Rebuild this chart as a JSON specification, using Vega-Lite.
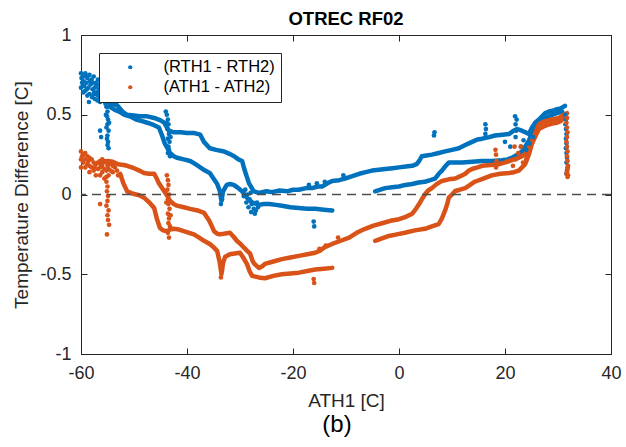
{
"$schema":"https://vega.github.io/schema/vega-lite/v6.json",
"background":"white",
"padding":{"left":12,"top":9,"right":6,"bottom":4},
"title":{"text":"(b)","orient":"bottom","fontSize":24,"font":"Liberation Sans","fontWeight":"normal","color":"#000000","offset":2,"anchor":"middle","frame":"bounds","dx":20},
"datasets":{
"tracks":[
{"t":"b1","s":"R","x":-57.5,"y":0.64},{"t":"b1","s":"R","x":-56,"y":0.6},{"t":"b1","s":"R","x":-54.5,"y":0.57},{"t":"b1","s":"R","x":-53.2,"y":0.56},{"t":"b1","s":"R","x":-52.2,"y":0.52},{"t":"b1","s":"R","x":-51.3,"y":0.5},{"t":"b1","s":"R","x":-50,"y":0.495},{"t":"b1","s":"R","x":-48.9,"y":0.49},{"t":"b1","s":"R","x":-47.5,"y":0.49},{"t":"b1","s":"R","x":-46.2,"y":0.48},{"t":"b1","s":"R","x":-45,"y":0.465},{"t":"b1","s":"R","x":-44.3,"y":0.45},{"t":"b1","s":"R","x":-43.8,"y":0.42},{"t":"b1","s":"R","x":-43.4,"y":0.4},{"t":"b1","s":"R","x":-42.5,"y":0.39},{"t":"b1","s":"R","x":-41.2,"y":0.39},{"t":"b1","s":"R","x":-40,"y":0.385},{"t":"b1","s":"R","x":-38.6,"y":0.385},{"t":"b1","s":"R","x":-37.5,"y":0.375},{"t":"b1","s":"R","x":-36.8,"y":0.33},{"t":"b1","s":"R","x":-35.7,"y":0.29},{"t":"b1","s":"R","x":-34.5,"y":0.28},{"t":"b1","s":"R","x":-33,"y":0.27},{"t":"b1","s":"R","x":-32,"y":0.255},{"t":"b1","s":"R","x":-31.1,"y":0.24},{"t":"b1","s":"R","x":-30.3,"y":0.22},{"t":"b1","s":"R","x":-29.6,"y":0.21},{"t":"b1","s":"R","x":-29.1,"y":0.15},{"t":"b1","s":"R","x":-28.3,"y":0.07},{"t":"b1","s":"R","x":-27.4,"y":0.02},{"t":"b1","s":"R","x":-26.4,"y":0.01},{"t":"b1","s":"R","x":-25,"y":0.02},{"t":"b1","s":"R","x":-24,"y":0.015},{"t":"b1","s":"R","x":-22.5,"y":0.025},{"t":"b1","s":"R","x":-21.1,"y":0.02},{"t":"b1","s":"R","x":-20,"y":0.03},{"t":"b1","s":"R","x":-18.9,"y":0.03},{"t":"b1","s":"R","x":-17.5,"y":0.04},{"t":"b1","s":"R","x":-16.4,"y":0.04},{"t":"b1","s":"R","x":-15.3,"y":0.05},{"t":"b1","s":"R","x":-14.5,"y":0.05},{"t":"b1","s":"R","x":-13.5,"y":0.07},{"t":"b1","s":"R","x":-12.6,"y":0.085},{"t":"b1","s":"R","x":-11.3,"y":0.09},{"t":"b1","s":"R","x":-10.2,"y":0.1},{"t":"b1","s":"R","x":-8.8,"y":0.115},{"t":"b1","s":"R","x":-7.5,"y":0.13},{"t":"b1","s":"R","x":-6.3,"y":0.14},{"t":"b1","s":"R","x":-5.1,"y":0.15},{"t":"b1","s":"R","x":-3.8,"y":0.155},{"t":"b1","s":"R","x":-2.6,"y":0.16},{"t":"b1","s":"R","x":-1.2,"y":0.165},{"t":"b1","s":"R","x":0,"y":0.17},{"t":"b1","s":"R","x":1.3,"y":0.175},{"t":"b1","s":"R","x":2.5,"y":0.18},{"t":"b1","s":"R","x":3.3,"y":0.19},{"t":"b1","s":"R","x":3.8,"y":0.21},{"t":"b1","s":"R","x":4.3,"y":0.24},{"t":"b1","s":"R","x":5.2,"y":0.245},{"t":"b1","s":"R","x":6.2,"y":0.25},{"t":"b1","s":"R","x":7.5,"y":0.26},{"t":"b1","s":"R","x":8.7,"y":0.27},{"t":"b1","s":"R","x":10,"y":0.28},{"t":"b1","s":"R","x":11.3,"y":0.29},{"t":"b1","s":"R","x":12.5,"y":0.31},{"t":"b1","s":"R","x":13.8,"y":0.33},{"t":"b1","s":"R","x":14.8,"y":0.345},{"t":"b1","s":"R","x":15.7,"y":0.35},{"t":"b1","s":"R","x":17,"y":0.36},{"t":"b1","s":"R","x":18.1,"y":0.37},{"t":"b1","s":"R","x":19.5,"y":0.375},{"t":"b1","s":"R","x":20.8,"y":0.38},{"t":"b1","s":"R","x":21.6,"y":0.4},{"t":"b1","s":"R","x":22.3,"y":0.41},{"t":"b1","s":"R","x":23.2,"y":0.4},{"t":"b1","s":"R","x":24.5,"y":0.38},{"t":"b1","s":"R","x":25.1,"y":0.42},{"t":"b1","s":"R","x":25.7,"y":0.45},{"t":"b1","s":"R","x":26.4,"y":0.47},{"t":"b1","s":"R","x":27,"y":0.49},{"t":"b1","s":"R","x":27.6,"y":0.51},{"t":"b1","s":"R","x":28.3,"y":0.52},{"t":"b1","s":"R","x":29,"y":0.525},{"t":"b1","s":"R","x":29.8,"y":0.535},{"t":"b1","s":"R","x":30.5,"y":0.54},{"t":"b1","s":"R","x":31.3,"y":0.555},
{"t":"b2","s":"R","x":-54.5,"y":0.55},{"t":"b2","s":"R","x":-53.6,"y":0.53},{"t":"b2","s":"R","x":-52.8,"y":0.52},{"t":"b2","s":"R","x":-51.8,"y":0.5},{"t":"b2","s":"R","x":-50.8,"y":0.49},{"t":"b2","s":"R","x":-49.6,"y":0.47},{"t":"b2","s":"R","x":-48.5,"y":0.46},{"t":"b2","s":"R","x":-47.5,"y":0.45},{"t":"b2","s":"R","x":-46.6,"y":0.44},{"t":"b2","s":"R","x":-45.3,"y":0.42},{"t":"b2","s":"R","x":-44.7,"y":0.37},{"t":"b2","s":"R","x":-44.2,"y":0.32},{"t":"b2","s":"R","x":-43.2,"y":0.26},{"t":"b2","s":"R","x":-42.5,"y":0.24},{"t":"b2","s":"R","x":-41.9,"y":0.23},{"t":"b2","s":"R","x":-40.6,"y":0.22},{"t":"b2","s":"R","x":-39.4,"y":0.21},{"t":"b2","s":"R","x":-38.4,"y":0.19},{"t":"b2","s":"R","x":-37.5,"y":0.17},{"t":"b2","s":"R","x":-36.6,"y":0.15},{"t":"b2","s":"R","x":-35.7,"y":0.135},{"t":"b2","s":"R","x":-35,"y":0.1},{"t":"b2","s":"R","x":-34.3,"y":0.066},{"t":"b2","s":"R","x":-33.8,"y":0.02},{"t":"b2","s":"R","x":-33.5,"y":-0.04},{"t":"b2","s":"R","x":-33.2,"y":0.02},{"t":"b2","s":"R","x":-32.5,"y":0.06},{"t":"b2","s":"R","x":-31.9,"y":0.066},{"t":"b2","s":"R","x":-31.2,"y":0.06},{"t":"b2","s":"R","x":-30.6,"y":0.047},{"t":"b2","s":"R","x":-29.6,"y":0.02},{"t":"b2","s":"R","x":-28.7,"y":-0.02},{"t":"b2","s":"R","x":-27.7,"y":-0.05},{"t":"b2","s":"R","x":-26.4,"y":-0.065},{"t":"b2","s":"R","x":-25.5,"y":-0.06},{"t":"b2","s":"R","x":-24.5,"y":-0.06},{"t":"b2","s":"R","x":-23.2,"y":-0.065},{"t":"b2","s":"R","x":-22.1,"y":-0.07},{"t":"b2","s":"R","x":-20.5,"y":-0.08},{"t":"b2","s":"R","x":-18.9,"y":-0.085},{"t":"b2","s":"R","x":-17.3,"y":-0.09},{"t":"b2","s":"R","x":-15.8,"y":-0.09},{"t":"b2","s":"R","x":-14.2,"y":-0.095},{"t":"b2","s":"R","x":-12.6,"y":-0.1},
{"t":"b3","s":"R","x":-4.5,"y":0.02},{"t":"b3","s":"R","x":-3.5,"y":0.03},{"t":"b3","s":"R","x":-2.6,"y":0.04},{"t":"b3","s":"R","x":-1.3,"y":0.045},{"t":"b3","s":"R","x":0,"y":0.05},{"t":"b3","s":"R","x":1.2,"y":0.06},{"t":"b3","s":"R","x":2.5,"y":0.066},{"t":"b3","s":"R","x":3.7,"y":0.075},{"t":"b3","s":"R","x":4.9,"y":0.08},{"t":"b3","s":"R","x":5.9,"y":0.09},{"t":"b3","s":"R","x":6.8,"y":0.1},{"t":"b3","s":"R","x":7.5,"y":0.13},{"t":"b3","s":"R","x":8.1,"y":0.15},{"t":"b3","s":"R","x":8.8,"y":0.18},{"t":"b3","s":"R","x":9.4,"y":0.2},{"t":"b3","s":"R","x":10.6,"y":0.2},{"t":"b3","s":"R","x":11.9,"y":0.2},{"t":"b3","s":"R","x":13.8,"y":0.205},{"t":"b3","s":"R","x":15.7,"y":0.21},{"t":"b3","s":"R","x":17.5,"y":0.21},{"t":"b3","s":"R","x":19.4,"y":0.215},{"t":"b3","s":"R","x":20.5,"y":0.22},{"t":"b3","s":"R","x":21.3,"y":0.23},{"t":"b3","s":"R","x":22.3,"y":0.25},{"t":"b3","s":"R","x":23.2,"y":0.27},{"t":"b3","s":"R","x":24,"y":0.31},{"t":"b3","s":"R","x":24.5,"y":0.335},{"t":"b3","s":"R","x":25.1,"y":0.39},{"t":"b3","s":"R","x":25.7,"y":0.43},{"t":"b3","s":"R","x":26.4,"y":0.45},{"t":"b3","s":"R","x":27,"y":0.47},{"t":"b3","s":"R","x":28,"y":0.485},{"t":"b3","s":"R","x":28.9,"y":0.5},{"t":"b3","s":"R","x":29.8,"y":0.51},{"t":"b3","s":"R","x":30.8,"y":0.52},
{"t":"o1","s":"A","x":-56,"y":0.2},{"t":"o1","s":"A","x":-55,"y":0.21},{"t":"o1","s":"A","x":-54,"y":0.205},{"t":"o1","s":"A","x":-53,"y":0.19},{"t":"o1","s":"A","x":-52,"y":0.185},{"t":"o1","s":"A","x":-51.3,"y":0.18},{"t":"o1","s":"A","x":-50,"y":0.165},{"t":"o1","s":"A","x":-49,"y":0.15},{"t":"o1","s":"A","x":-48.1,"y":0.135},{"t":"o1","s":"A","x":-47.2,"y":0.13},{"t":"o1","s":"A","x":-46.2,"y":0.13},{"t":"o1","s":"A","x":-45.7,"y":0.1},{"t":"o1","s":"A","x":-45.3,"y":0.07},{"t":"o1","s":"A","x":-44.8,"y":0.045},{"t":"o1","s":"A","x":-44.3,"y":0.02},{"t":"o1","s":"A","x":-43.7,"y":-0.01},{"t":"o1","s":"A","x":-43.2,"y":-0.04},{"t":"o1","s":"A","x":-42.5,"y":-0.06},{"t":"o1","s":"A","x":-41.9,"y":-0.07},{"t":"o1","s":"A","x":-40.6,"y":-0.08},{"t":"o1","s":"A","x":-39.4,"y":-0.09},{"t":"o1","s":"A","x":-38,"y":-0.1},{"t":"o1","s":"A","x":-36.8,"y":-0.115},{"t":"o1","s":"A","x":-36.3,"y":-0.14},{"t":"o1","s":"A","x":-35.8,"y":-0.165},{"t":"o1","s":"A","x":-35.3,"y":-0.2},{"t":"o1","s":"A","x":-34.9,"y":-0.23},{"t":"o1","s":"A","x":-34.3,"y":-0.245},{"t":"o1","s":"A","x":-33.8,"y":-0.25},{"t":"o1","s":"A","x":-32.8,"y":-0.245},{"t":"o1","s":"A","x":-31.9,"y":-0.24},{"t":"o1","s":"A","x":-31.2,"y":-0.265},{"t":"o1","s":"A","x":-30.6,"y":-0.29},{"t":"o1","s":"A","x":-29.9,"y":-0.31},{"t":"o1","s":"A","x":-29.2,"y":-0.335},{"t":"o1","s":"A","x":-28.6,"y":-0.355},{"t":"o1","s":"A","x":-28.1,"y":-0.37},{"t":"o1","s":"A","x":-27.7,"y":-0.41},{"t":"o1","s":"A","x":-27.4,"y":-0.43},{"t":"o1","s":"A","x":-26.8,"y":-0.45},{"t":"o1","s":"A","x":-26.4,"y":-0.46},{"t":"o1","s":"A","x":-25.8,"y":-0.45},{"t":"o1","s":"A","x":-25.3,"y":-0.435},{"t":"o1","s":"A","x":-23.7,"y":-0.42},{"t":"o1","s":"A","x":-22.1,"y":-0.405},{"t":"o1","s":"A","x":-20.5,"y":-0.395},{"t":"o1","s":"A","x":-18.9,"y":-0.385},{"t":"o1","s":"A","x":-17.3,"y":-0.375},{"t":"o1","s":"A","x":-15.8,"y":-0.365},{"t":"o1","s":"A","x":-14.8,"y":-0.35},{"t":"o1","s":"A","x":-14,"y":-0.33},{"t":"o1","s":"A","x":-12.6,"y":-0.31},{"t":"o1","s":"A","x":-11,"y":-0.29},{"t":"o1","s":"A","x":-9.4,"y":-0.27},{"t":"o1","s":"A","x":-8,"y":-0.24},{"t":"o1","s":"A","x":-6.4,"y":-0.215},{"t":"o1","s":"A","x":-4.8,"y":-0.195},{"t":"o1","s":"A","x":-3.2,"y":-0.18},{"t":"o1","s":"A","x":-1.6,"y":-0.165},{"t":"o1","s":"A","x":0,"y":-0.155},{"t":"o1","s":"A","x":1.3,"y":-0.14},{"t":"o1","s":"A","x":2.5,"y":-0.12},{"t":"o1","s":"A","x":3.2,"y":-0.09},{"t":"o1","s":"A","x":3.8,"y":-0.06},{"t":"o1","s":"A","x":4.3,"y":-0.03},{"t":"o1","s":"A","x":4.9,"y":0.0},{"t":"o1","s":"A","x":5.5,"y":0.025},{"t":"o1","s":"A","x":6.2,"y":0.04},{"t":"o1","s":"A","x":7.1,"y":0.065},{"t":"o1","s":"A","x":8.1,"y":0.085},{"t":"o1","s":"A","x":9.4,"y":0.095},{"t":"o1","s":"A","x":10.6,"y":0.1},{"t":"o1","s":"A","x":11.6,"y":0.115},{"t":"o1","s":"A","x":12.5,"y":0.13},{"t":"o1","s":"A","x":13.2,"y":0.15},{"t":"o1","s":"A","x":13.8,"y":0.16},{"t":"o1","s":"A","x":14.8,"y":0.17},{"t":"o1","s":"A","x":15.7,"y":0.18},{"t":"o1","s":"A","x":17.3,"y":0.185},{"t":"o1","s":"A","x":18.9,"y":0.19},{"t":"o1","s":"A","x":19.9,"y":0.2},{"t":"o1","s":"A","x":20.8,"y":0.21},{"t":"o1","s":"A","x":21.7,"y":0.22},{"t":"o1","s":"A","x":22.6,"y":0.23},{"t":"o1","s":"A","x":23.2,"y":0.24},{"t":"o1","s":"A","x":23.8,"y":0.25},{"t":"o1","s":"A","x":24.5,"y":0.29},{"t":"o1","s":"A","x":25.1,"y":0.335},{"t":"o1","s":"A","x":25.8,"y":0.39},{"t":"o1","s":"A","x":26.4,"y":0.44},{"t":"o1","s":"A","x":27.6,"y":0.46},{"t":"o1","s":"A","x":28.9,"y":0.47},{"t":"o1","s":"A","x":30.2,"y":0.48},{"t":"o1","s":"A","x":31.1,"y":0.5},{"t":"o1","s":"A","x":31.7,"y":0.51},
{"t":"o2","s":"A","x":-52.6,"y":0.13},{"t":"o2","s":"A","x":-52,"y":0.07},{"t":"o2","s":"A","x":-51.3,"y":0.02},{"t":"o2","s":"A","x":-50.6,"y":0.01},{"t":"o2","s":"A","x":-50,"y":0.003},{"t":"o2","s":"A","x":-49,"y":-0.005},{"t":"o2","s":"A","x":-48.1,"y":-0.02},{"t":"o2","s":"A","x":-47.1,"y":-0.05},{"t":"o2","s":"A","x":-46.2,"y":-0.085},{"t":"o2","s":"A","x":-45.7,"y":-0.15},{"t":"o2","s":"A","x":-45.1,"y":-0.21},{"t":"o2","s":"A","x":-44.5,"y":-0.225},{"t":"o2","s":"A","x":-43.8,"y":-0.23},{"t":"o2","s":"A","x":-43.2,"y":-0.22},{"t":"o2","s":"A","x":-42.5,"y":-0.215},{"t":"o2","s":"A","x":-41.5,"y":-0.22},{"t":"o2","s":"A","x":-40.6,"y":-0.23},{"t":"o2","s":"A","x":-39.6,"y":-0.24},{"t":"o2","s":"A","x":-38.7,"y":-0.25},{"t":"o2","s":"A","x":-37.7,"y":-0.27},{"t":"o2","s":"A","x":-36.8,"y":-0.29},{"t":"o2","s":"A","x":-35.7,"y":-0.31},{"t":"o2","s":"A","x":-35,"y":-0.33},{"t":"o2","s":"A","x":-34.3,"y":-0.355},{"t":"o2","s":"A","x":-33.8,"y":-0.43},{"t":"o2","s":"A","x":-33.5,"y":-0.5},{"t":"o2","s":"A","x":-33.2,"y":-0.43},{"t":"o2","s":"A","x":-32.8,"y":-0.39},{"t":"o2","s":"A","x":-31.9,"y":-0.375},{"t":"o2","s":"A","x":-31,"y":-0.37},{"t":"o2","s":"A","x":-30,"y":-0.365},{"t":"o2","s":"A","x":-29.3,"y":-0.4},{"t":"o2","s":"A","x":-28.7,"y":-0.435},{"t":"o2","s":"A","x":-28.2,"y":-0.48},{"t":"o2","s":"A","x":-27.7,"y":-0.51},{"t":"o2","s":"A","x":-26.5,"y":-0.52},{"t":"o2","s":"A","x":-25.3,"y":-0.525},{"t":"o2","s":"A","x":-23.7,"y":-0.51},{"t":"o2","s":"A","x":-22.1,"y":-0.5},{"t":"o2","s":"A","x":-20.5,"y":-0.495},{"t":"o2","s":"A","x":-18.9,"y":-0.49},{"t":"o2","s":"A","x":-17.3,"y":-0.48},{"t":"o2","s":"A","x":-15.8,"y":-0.47},{"t":"o2","s":"A","x":-14.2,"y":-0.465},{"t":"o2","s":"A","x":-12.6,"y":-0.46},
{"t":"o3","s":"A","x":-4.5,"y":-0.29},{"t":"o3","s":"A","x":-3.2,"y":-0.275},{"t":"o3","s":"A","x":-1.9,"y":-0.26},{"t":"o3","s":"A","x":-0.4,"y":-0.25},{"t":"o3","s":"A","x":1.1,"y":-0.24},{"t":"o3","s":"A","x":3,"y":-0.225},{"t":"o3","s":"A","x":4.9,"y":-0.215},{"t":"o3","s":"A","x":6.2,"y":-0.2},{"t":"o3","s":"A","x":7.5,"y":-0.185},{"t":"o3","s":"A","x":8.1,"y":-0.15},{"t":"o3","s":"A","x":8.7,"y":-0.1},{"t":"o3","s":"A","x":9.1,"y":-0.06},{"t":"o3","s":"A","x":9.4,"y":-0.02},{"t":"o3","s":"A","x":10,"y":0.0},{"t":"o3","s":"A","x":10.6,"y":0.022},{"t":"o3","s":"A","x":11.5,"y":0.03},{"t":"o3","s":"A","x":12.5,"y":0.04},{"t":"o3","s":"A","x":13.4,"y":0.06},{"t":"o3","s":"A","x":14.3,"y":0.08},{"t":"o3","s":"A","x":15.9,"y":0.1},{"t":"o3","s":"A","x":17.5,"y":0.12},{"t":"o3","s":"A","x":19.1,"y":0.13},{"t":"o3","s":"A","x":20.8,"y":0.135},{"t":"o3","s":"A","x":21.7,"y":0.14},{"t":"o3","s":"A","x":22.6,"y":0.15},{"t":"o3","s":"A","x":23.2,"y":0.17},{"t":"o3","s":"A","x":23.8,"y":0.19},{"t":"o3","s":"A","x":24.5,"y":0.25},{"t":"o3","s":"A","x":25.1,"y":0.32},{"t":"o3","s":"A","x":25.8,"y":0.37},{"t":"o3","s":"A","x":26.4,"y":0.41},{"t":"o3","s":"A","x":27.2,"y":0.425},{"t":"o3","s":"A","x":27.9,"y":0.435},{"t":"o3","s":"A","x":28.9,"y":0.445},{"t":"o3","s":"A","x":29.8,"y":0.45},{"t":"o3","s":"A","x":30.5,"y":0.46},{"t":"o3","s":"A","x":31.1,"y":0.48}
],
"pts":[
{"s":"R","x":-60,"y":0.76},{"s":"R","x":-59.6,"y":0.74},{"s":"R","x":-59.2,"y":0.76},{"s":"R","x":-58.8,"y":0.73},{"s":"R","x":-58.4,"y":0.75},{"s":"R","x":-58,"y":0.72},{"s":"R","x":-57.6,"y":0.74},{"s":"R","x":-57.2,"y":0.7},{"s":"R","x":-56.8,"y":0.72},{"s":"R","x":-59.8,"y":0.7},{"s":"R","x":-59.4,"y":0.68},{"s":"R","x":-59,"y":0.7},{"s":"R","x":-58.6,"y":0.67},{"s":"R","x":-58.2,"y":0.69},{"s":"R","x":-57.8,"y":0.66},{"s":"R","x":-57.4,"y":0.67},{"s":"R","x":-57,"y":0.64},{"s":"R","x":-56.6,"y":0.66},{"s":"R","x":-56.2,"y":0.62},{"s":"R","x":-59.6,"y":0.64},{"s":"R","x":-59.2,"y":0.65},{"s":"R","x":-58.8,"y":0.62},{"s":"R","x":-58.4,"y":0.63},{"s":"R","x":-57.9,"y":0.61},{"s":"R","x":-57.4,"y":0.6},{"s":"R","x":-56.9,"y":0.59},{"s":"R","x":-59.9,"y":0.73},{"s":"R","x":-60,"y":0.67},{"s":"R","x":-58.5,"y":0.58},{"s":"R","x":-56.4,"y":0.58},{"s":"R","x":-55.8,"y":0.59},{"s":"R","x":-55.4,"y":0.57},{"s":"R","x":-55.1,"y":0.55},{"s":"R","x":-59,"y":0.74},{"s":"R","x":-57.8,"y":0.7},{"s":"R","x":-56.5,"y":0.69},{"s":"R","x":-59.5,"y":0.71},{"s":"R","x":-58.3,"y":0.71},{"s":"R","x":-57.1,"y":0.68},{"s":"R","x":-58.9,"y":0.66},{"s":"R","x":-57.6,"y":0.63},{"s":"R","x":-56,"y":0.65},
{"s":"R","x":-55.2,"y":0.55},{"s":"R","x":-55,"y":0.52},{"s":"R","x":-55.1,"y":0.49},{"s":"R","x":-54.9,"y":0.47},{"s":"R","x":-55,"y":0.44},{"s":"R","x":-55.2,"y":0.42},{"s":"R","x":-54.8,"y":0.4},{"s":"R","x":-55,"y":0.37},{"s":"R","x":-55.1,"y":0.35},{"s":"R","x":-54.9,"y":0.33},{"s":"R","x":-55,"y":0.31},{"s":"R","x":-55.3,"y":0.5},{"s":"R","x":-54.7,"y":0.45},{"s":"R","x":-54.8,"y":0.29},{"s":"R","x":-56.4,"y":0.4},{"s":"R","x":-56.2,"y":0.36},
{"s":"R","x":-44,"y":0.52},{"s":"R","x":-43.8,"y":0.5},{"s":"R","x":-43.6,"y":0.47},{"s":"R","x":-43.5,"y":0.44},{"s":"R","x":-43.7,"y":0.41},{"s":"R","x":-43.4,"y":0.38},{"s":"R","x":-43.6,"y":0.35},{"s":"R","x":-43.3,"y":0.33},{"s":"R","x":-43.5,"y":0.3},{"s":"R","x":-43.4,"y":0.28},{"s":"R","x":-43.6,"y":0.26},{"s":"R","x":-43.2,"y":0.24},{"s":"R","x":-43.9,"y":0.45},{"s":"R","x":-43.1,"y":0.36},
{"s":"R","x":-29,"y":0.03},{"s":"R","x":-28.6,"y":0.0},{"s":"R","x":-28.2,"y":-0.03},{"s":"R","x":-27.8,"y":-0.06},{"s":"R","x":-27.4,"y":-0.09},{"s":"R","x":-27,"y":-0.1},{"s":"R","x":-26.6,"y":-0.08},{"s":"R","x":-28.8,"y":-0.05},{"s":"R","x":-28.4,"y":-0.08},{"s":"R","x":-27.9,"y":-0.11},{"s":"R","x":-27.2,"y":-0.12},{"s":"R","x":-26.8,"y":-0.05},{"s":"R","x":-28,"y":0.01},{"s":"R","x":-29.3,"y":-0.01},{"s":"R","x":-16,"y":-0.2},{"s":"R","x":-16.1,"y":-0.17},{"s":"R","x":-33.6,"y":-0.06},{"s":"R","x":-33.4,"y":-0.03},
{"s":"R","x":-17,"y":0.06},{"s":"R","x":-15.5,"y":0.07},{"s":"R","x":-14,"y":0.08},{"s":"R","x":-10.5,"y":0.12},{"s":"R","x":6.6,"y":0.37},{"s":"R","x":6.7,"y":0.39},{"s":"R","x":16.3,"y":0.38},{"s":"R","x":16.4,"y":0.41},{"s":"R","x":16.3,"y":0.44},{"s":"R","x":22,"y":0.36},{"s":"R","x":22.1,"y":0.4},{"s":"R","x":22,"y":0.44},{"s":"R","x":22.2,"y":0.47},{"s":"R","x":21.9,"y":0.49},{"s":"R","x":23,"y":0.3},{"s":"R","x":23.5,"y":0.34},{"s":"R","x":24,"y":0.28},{"s":"R","x":24.6,"y":0.32},{"s":"R","x":25.3,"y":0.36},{"s":"R","x":21,"y":0.3},{"s":"R","x":20,"y":0.33},
{"s":"R","x":31.4,"y":0.5},{"s":"R","x":31.5,"y":0.47},{"s":"R","x":31.4,"y":0.44},{"s":"R","x":31.5,"y":0.41},{"s":"R","x":31.6,"y":0.38},{"s":"R","x":31.5,"y":0.35},{"s":"R","x":31.6,"y":0.32},{"s":"R","x":31.5,"y":0.29},{"s":"R","x":31.6,"y":0.26},{"s":"R","x":31.7,"y":0.23},{"s":"R","x":31.6,"y":0.2},{"s":"R","x":31.8,"y":0.17},{"s":"R","x":31.7,"y":0.15},{"s":"R","x":31.6,"y":0.13},
{"s":"A","x":-60,"y":0.27},{"s":"A","x":-60,"y":0.22},{"s":"A","x":-60,"y":0.17},{"s":"A","x":-59.6,"y":0.25},{"s":"A","x":-59.6,"y":0.2},{"s":"A","x":-59.2,"y":0.26},{"s":"A","x":-59.2,"y":0.22},{"s":"A","x":-59.2,"y":0.17},{"s":"A","x":-58.8,"y":0.24},{"s":"A","x":-58.8,"y":0.19},{"s":"A","x":-58.4,"y":0.23},{"s":"A","x":-58.4,"y":0.18},{"s":"A","x":-58.4,"y":0.14},{"s":"A","x":-58,"y":0.22},{"s":"A","x":-58,"y":0.17},{"s":"A","x":-57.6,"y":0.2},{"s":"A","x":-57.6,"y":0.15},{"s":"A","x":-57.2,"y":0.19},{"s":"A","x":-57.2,"y":0.12},{"s":"A","x":-56.8,"y":0.2},{"s":"A","x":-56.8,"y":0.16},{"s":"A","x":-56.4,"y":0.21},{"s":"A","x":-56.4,"y":0.17},{"s":"A","x":-56.4,"y":0.12},{"s":"A","x":-56,"y":0.22},{"s":"A","x":-56,"y":0.18},{"s":"A","x":-56,"y":0.14},{"s":"A","x":-55.6,"y":0.21},{"s":"A","x":-55.6,"y":0.16},{"s":"A","x":-55.6,"y":0.1},{"s":"A","x":-55.2,"y":0.2},{"s":"A","x":-55.2,"y":0.15},{"s":"A","x":-55.2,"y":0.11},{"s":"A","x":-54.8,"y":0.2},{"s":"A","x":-54.8,"y":0.16},{"s":"A","x":-54.8,"y":0.12},{"s":"A","x":-54.4,"y":0.19},{"s":"A","x":-54.4,"y":0.15},{"s":"A","x":-54,"y":0.18},{"s":"A","x":-54,"y":0.14},{"s":"A","x":-53.6,"y":0.17},{"s":"A","x":-53.2,"y":0.15},{"s":"A","x":-53,"y":0.12},{"s":"A","x":-59.8,"y":0.24},{"s":"A","x":-58.6,"y":0.21},{"s":"A","x":-57.4,"y":0.17},{"s":"A","x":-56.2,"y":0.19},{"s":"A","x":-55,"y":0.18},
{"s":"A","x":-55.2,"y":0.08},{"s":"A","x":-55,"y":0.05},{"s":"A","x":-55.1,"y":0.02},{"s":"A","x":-54.9,"y":-0.01},{"s":"A","x":-55,"y":-0.04},{"s":"A","x":-55.2,"y":-0.07},{"s":"A","x":-54.8,"y":-0.1},{"s":"A","x":-55,"y":-0.13},{"s":"A","x":-54.9,"y":-0.16},{"s":"A","x":-56.4,"y":-0.06},{"s":"A","x":-54.7,"y":-0.19},{"s":"A","x":-55.1,"y":-0.25},
{"s":"A","x":-43.8,"y":0.12},{"s":"A","x":-43.6,"y":0.09},{"s":"A","x":-43.5,"y":0.06},{"s":"A","x":-43.7,"y":0.03},{"s":"A","x":-43.4,"y":0.0},{"s":"A","x":-43.6,"y":-0.03},{"s":"A","x":-43.5,"y":-0.06},{"s":"A","x":-43.3,"y":-0.09},{"s":"A","x":-43.6,"y":-0.12},{"s":"A","x":-43.4,"y":-0.15},{"s":"A","x":-43.5,"y":-0.18},{"s":"A","x":-43.2,"y":-0.2},{"s":"A","x":-43.6,"y":-0.24},{"s":"A","x":-43.4,"y":-0.27},{"s":"A","x":-43.9,"y":-0.05},{"s":"A","x":-43.1,"y":-0.13},
{"s":"A","x":-33.6,"y":-0.52},{"s":"A","x":-33.4,"y":-0.47},{"s":"A","x":-16,"y":-0.555},{"s":"A","x":-16.1,"y":-0.53},{"s":"A","x":-15,"y":-0.34},{"s":"A","x":-13.8,"y":-0.32},{"s":"A","x":-11.5,"y":-0.27},
{"s":"A","x":18.3,"y":0.17},{"s":"A","x":18.4,"y":0.21},{"s":"A","x":18.3,"y":0.25},{"s":"A","x":18.2,"y":0.28},{"s":"A","x":21.5,"y":0.18},{"s":"A","x":22,"y":0.22},{"s":"A","x":22.5,"y":0.26},{"s":"A","x":23,"y":0.3},{"s":"A","x":23.4,"y":0.2},{"s":"A","x":24,"y":0.22},{"s":"A","x":21.8,"y":0.3},
{"s":"A","x":31.7,"y":0.48},{"s":"A","x":31.6,"y":0.45},{"s":"A","x":31.7,"y":0.42},{"s":"A","x":31.8,"y":0.39},{"s":"A","x":31.7,"y":0.36},{"s":"A","x":31.6,"y":0.33},{"s":"A","x":31.7,"y":0.3},{"s":"A","x":31.8,"y":0.27},{"s":"A","x":31.7,"y":0.24},{"s":"A","x":31.8,"y":0.21},{"s":"A","x":31.9,"y":0.18},{"s":"A","x":31.8,"y":0.16},{"s":"A","x":31.7,"y":0.14},{"s":"A","x":31.9,"y":0.12},{"s":"A","x":31.6,"y":0.13},{"s":"A","x":31.8,"y":0.11}
]
},
"vconcat":[{
"width":530,"height":319,
"title":{"text":"OTREC RF02","fontSize":18.5,"fontWeight":"bold","font":"Liberation Sans","color":"#000000","offset":-2,"anchor":"middle","frame":"group"},
"layer":[
{"data":{"name":"tracks"},
 "mark":{"type":"line","strokeWidth":4.5,"strokeCap":"round","strokeJoin":"round"},
 "encoding":{
  "x":{"field":"x","type":"quantitative","scale":{"domain":[-60,40],"nice":false,"zero":false},
       "axis":{"orient":"bottom","title":"ATH1 [C]","values":[-60,-40,-20,0,20,40],"labelExpr":"'' + datum.value","labelPadding":16,"titlePadding":9,"labelFlush":false}},
  "y":{"field":"y","type":"quantitative","scale":{"domain":[-1,1],"nice":false,"zero":false},
       "axis":{"orient":"left","title":"Temperature Difference [C]","values":[-1,-0.5,0,0.5,1],"labelExpr":"'' + datum.value","labelPadding":16,"titlePadding":8,"labelFlush":false}},
  "detail":{"field":"t"},
  "color":{"field":"s","type":"nominal","scale":{"domain":["R","A"],"range":["#0072BD","#D95319"]},
    "legend":{"title":null,"orient":"top-left","offset":18,"labelExpr":"datum.label == 'R' ? '(RTH1 - RTH2)' : '(ATH1 - ATH2)'","symbolType":"circle","symbolSize":18,"symbolStrokeWidth":0,"symbolOffset":17,"labelOffset":25,"labelFontSize":16.5,"labelColor":"#000000","labelFont":"Liberation Sans","strokeColor":"#262626","fillColor":"white","padding":6,"rowPadding":3}}
 }},
{"data":{"name":"pts"},
 "mark":{"type":"point","filled":true,"size":22,"opacity":1},
 "encoding":{
  "x":{"field":"x","type":"quantitative","axis":{"orient":"top","title":null,"labels":false,"values":[-60,-40,-20,0,20,40]}},
  "y":{"field":"y","type":"quantitative","axis":{"orient":"right","title":null,"labels":false,"values":[-1,-0.5,0,0.5,1]}},
  "color":{"field":"s","type":"nominal","legend":{"title":null,"orient":"top-left","offset":18,"labelExpr":"datum.label == 'R' ? '(RTH1 - RTH2)' : '(ATH1 - ATH2)'","symbolType":"circle","symbolSize":18,"symbolStrokeWidth":0,"symbolOffset":17,"labelOffset":25,"labelFontSize":16.5,"labelColor":"#000000","labelFont":"Liberation Sans","strokeColor":"#262626","fillColor":"white","padding":6,"rowPadding":3}}
 }},
{"data":{"values":[{"y":0}]},
 "mark":{"type":"rule","color":"#4d4d4d","strokeWidth":1.5,"strokeDash":[9,6]},
 "encoding":{"y":{"field":"y","type":"quantitative","axis":null}}}
],
"resolve":{"axis":{"x":"independent","y":"independent"}}
}],
"config":{
 "view":{"stroke":"#262626","strokeWidth":1},
 "font":"Liberation Sans",
 "axis":{"grid":false,"domainColor":"#262626","tickColor":"#262626","labelColor":"#262626","titleColor":"#262626","labelFontSize":18,"titleFontSize":19,"titleFontWeight":"normal","labelFont":"Liberation Sans","titleFont":"Liberation Sans","tickSize":-6,"domainWidth":1,"tickWidth":1}
}
}
